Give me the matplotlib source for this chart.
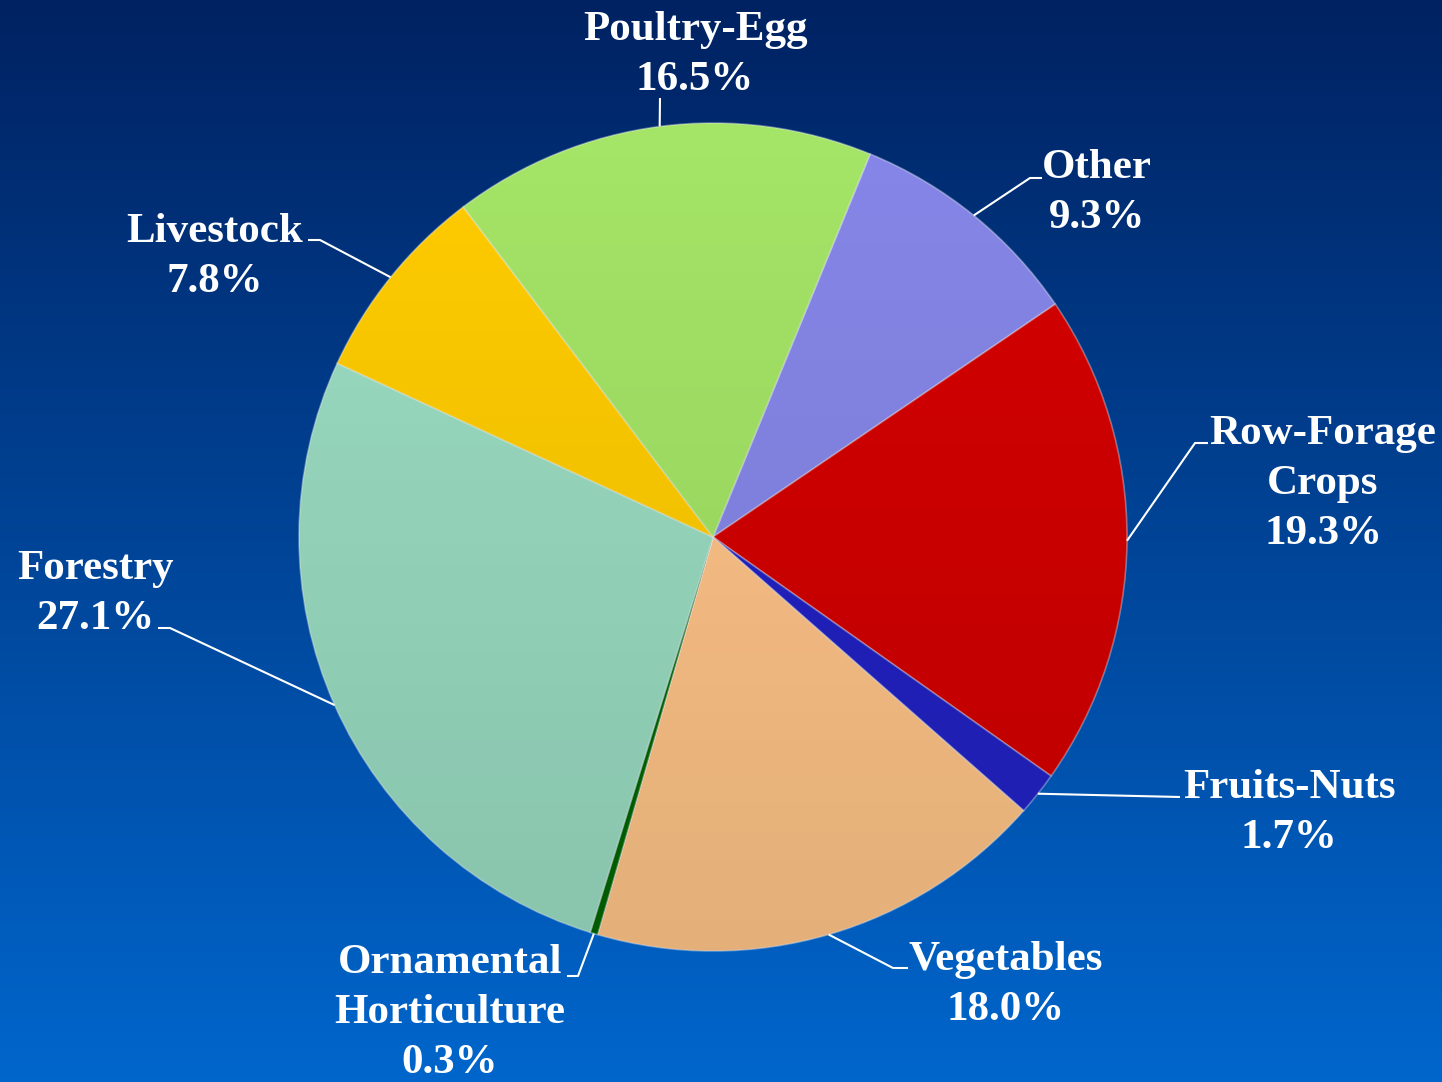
import matplotlib
matplotlib.use('agg')
import matplotlib.pyplot as plt
import matplotlib.patches as patches
import numpy as np

# data, clockwise from the top-right
categories = ['Other', 'Row-Forage\nCrops', 'Fruits-Nuts', 'Vegetables',
              'Ornamental\nHorticulture', 'Forestry', 'Livestock', 'Poultry-Egg']
shares = [9.3, 19.3, 1.7, 18.0, 0.3, 27.1, 7.8, 16.5]
colors = ['#8686e8', '#d40000', '#2222c4', '#ffc488',
          '#006600', '#9adcc2', '#ffcc00', '#a4e466']

# label placement (pixels from top-left): text centre, elbow points of leader
label_pos = [(1097, 193), (1323, 484), (1289, 813), (1006, 985),
             (450, 1013), (95, 594), (215, 257), (695, 55)]
leader_pts = [[(1030, 178), (1042, 178)],
              [(1195, 443), (1208, 443)],
              [(1180, 797)],
              [(893, 968), (908, 968)],
              [(578, 976), (567, 976)],
              [(170, 628), (158, 628)],
              [(320, 240), (308, 240)],
              [(660, 98)]]

W, H = 1442, 1082
fig = plt.figure(figsize=(W / 100, H / 100), dpi=100)
ax = fig.add_axes([0, 0, 1, 1])

# blue gradient background (dark at top, bright at bottom)
grad = np.linspace(0, 1, 256).reshape(-1, 1)
top = np.array([0, 34, 98]) / 255
bot = np.array([0, 102, 204]) / 255
bg = top + (bot - top) * grad[..., None]
bg = np.repeat(bg, 2, axis=1)
ax.imshow(bg, extent=(0, W, 0, H), aspect='auto', zorder=0, origin='upper')

cx, cy, R = 713, 537, 414

wedges, _ = ax.pie(shares, colors=colors, startangle=90 - 22.3, counterclock=False,
                   center=(cx, H - cy), radius=R,
                   wedgeprops=dict(edgecolor=(1, 1, 1, 0.35), linewidth=1.2))
for w in wedges:
    w.set_zorder(2)

# darken the pie slightly towards the bottom
shade = np.zeros((256, 2, 4))
shade[..., 3] = np.linspace(0.0, 0.11, 256)[:, None]
im = ax.imshow(shade, extent=(cx - R, cx + R, H - cy - R, H - cy + R),
               aspect='auto', zorder=3, origin='upper')
clip = patches.Circle((cx, H - cy), R, transform=ax.transData)
im.set_clip_path(clip)

for w, lab, share, (tx, ty), pts in zip(wedges, categories, shares, label_pos, leader_pts):
    mid = np.deg2rad((w.theta1 + w.theta2) / 2)
    ax_x = cx + R * np.cos(mid)
    ax_y = (H - cy) + R * np.sin(mid)
    xs = [ax_x] + [p[0] for p in pts]
    ys = [ax_y] + [H - p[1] for p in pts]
    ax.plot(xs, ys, color='white', lw=1.5, zorder=4, solid_capstyle='butt')
    ax.text(tx, H - ty, f'{lab}\n{share:.1f}%', ha='center', va='center',
            color='white', fontsize=31, fontweight='bold', family='Liberation Serif',
            linespacing=1.4, zorder=5)

ax.set_xlim(0, W)
ax.set_ylim(0, H)
ax.set_aspect('auto')
ax.axis('off')

plt.savefig('out.png', dpi=100)
